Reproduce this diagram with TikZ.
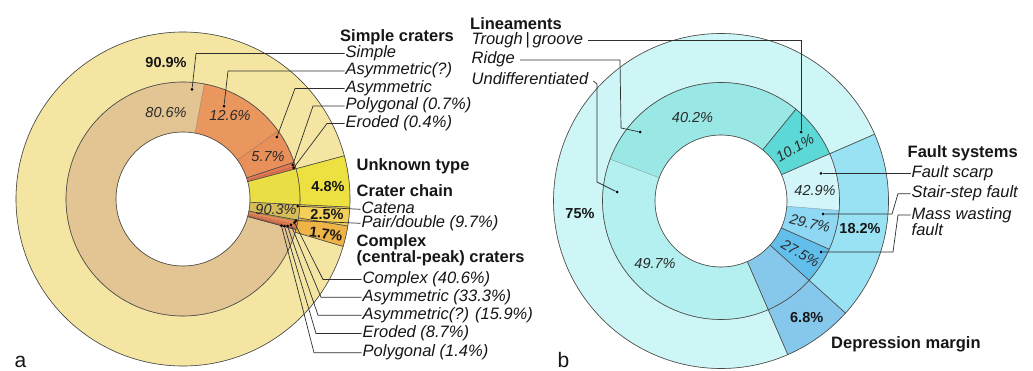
\documentclass[tikz,border=0pt]{standalone}
\usepackage{fontspec}
\setmainfont{Liberation Sans}
\usetikzlibrary{calc}
% left colours
\definecolor{cSimpO}{HTML}{F4E6A2}
\definecolor{cUnk}{HTML}{ECE140}
\definecolor{cChainO}{HTML}{F2D05A}
\definecolor{cCompO}{HTML}{EEB446}
\definecolor{cSimpI}{HTML}{E2C592}
\definecolor{cAsqI}{HTML}{E9975F}
\definecolor{cAsI}{HTML}{E98F5A}
\definecolor{cPolyI}{HTML}{E57A52}
\definecolor{cEroI}{HTML}{E86E48}
\definecolor{cUnkI}{HTML}{E9DE44}
\definecolor{cCat}{HTML}{D6BD5A}
\definecolor{cPair}{HTML}{C99A40}
\definecolor{cCa}{HTML}{EA8A55}
\definecolor{cCb}{HTML}{E8784A}
\definecolor{cCc}{HTML}{E06640}
\definecolor{cCd}{HTML}{D65A38}
\definecolor{cCe}{HTML}{C84E30}
% right colours
\definecolor{cLinO}{HTML}{CEF6F6}
\definecolor{cFaultO}{HTML}{98E2F4}
\definecolor{cDep}{HTML}{86C8EC}
\definecolor{cUnd}{HTML}{B4F0EF}
\definecolor{cRidge}{HTML}{9AE8E5}
\definecolor{cTrough}{HTML}{5CD8D6}
\definecolor{cScarp}{HTML}{D2F6FA}
\definecolor{cStair}{HTML}{8ED8F4}
\definecolor{cMass}{HTML}{62BFEC}
\definecolor{edgec}{HTML}{4A4A46}
\definecolor{leadc}{HTML}{2E2E2E}
\definecolor{txt}{HTML}{161616}
\definecolor{pctc}{HTML}{2A2A2A}
\newcommand\ringsec[6]{%
  \filldraw[fill=#6, draw=edgec, draw opacity=0.35, line width=0.4pt, shift={(#1)}]
    (#4:#2) arc[start angle=#4, end angle=#5, radius=#2]
    -- (#5:#3) arc[start angle=#5, end angle=#4, radius=#3] -- cycle;}
\tikzset{
  dark/.style={draw=edgec, line width=0.6pt},
  lead/.style={draw=leadc, line width=0.7pt},
  dotm/.style={circle, fill=black, inner sep=0pt, minimum size=3pt},
  lab/.style={font=\fontsize{16.5}{17.5}\selectfont\itshape, text=txt, anchor=west,
              inner sep=1pt, text height=12pt, text depth=4pt},
  head/.style={lab, font=\fontsize{16.5}{17.5}\selectfont\bfseries},
  labr/.style={lab, inner xsep=5pt},
  pct/.style={font=\fontsize{14.5}{15}\selectfont\itshape, text=pctc, inner sep=0pt},
  pctb/.style={font=\fontsize{14.5}{15}\selectfont\bfseries, text=txt, inner sep=0pt},
  panel/.style={font=\fontsize{21}{22}\selectfont, text=txt, anchor=base west, inner sep=0pt}
}
\begin{document}
\begin{tikzpicture}[x=1pt,y=1pt]
\useasboundingbox (0,0) rectangle (1033,370);
\fill[white] (0,0) rectangle (1033,370);
\coordinate (lc) at (183,171);
\coordinate (rc) at (721,169);

% ---------- left chart: outer ring
\ringsec{lc}{117}{167}{15}{343.5}{cSimpO}
\ringsec{lc}{117}{167}{-2.8}{15}{cUnk}
\ringsec{lc}{117}{167}{-9.3}{-2.8}{cChainO}
\ringsec{lc}{117}{167}{-16.5}{-9.3}{cCompO}
% inner ring
\ringsec{lc}{67}{117}{79.5}{344.8}{cSimpI}
\ringsec{lc}{67}{117}{35.5}{79.5}{cAsqI}
\ringsec{lc}{67}{117}{18.3}{35.5}{cAsI}
\ringsec{lc}{67}{117}{16.3}{18.3}{cPolyI}
\ringsec{lc}{67}{117}{15}{16.3}{cEroI}
\ringsec{lc}{67}{117}{-2.8}{15}{cUnkI}
\ringsec{lc}{67}{117}{-10.4}{-2.8}{cCat}
\ringsec{lc}{67}{117}{-11.2}{-10.4}{cPair}
\ringsec{lc}{67}{117}{-12.82}{-11.2}{cCa}
\ringsec{lc}{67}{117}{-14.15}{-12.82}{cCb}
\ringsec{lc}{67}{117}{-14.79}{-14.15}{cCc}
\ringsec{lc}{67}{117}{-15.14}{-14.79}{cCd}
\ringsec{lc}{67}{117}{-15.2}{-15.14}{cCe}
% dark outlines
\draw[dark] (lc) circle[radius=67];
\draw[dark] (lc) circle[radius=117];
\draw[dark] (lc) circle[radius=167];
\draw[dark, shift={(lc)}] (15:67) -- (15:167);
\draw[dark, shift={(lc)}] (-2.8:67) -- (-2.8:167);
\draw[dark, shift={(lc)}] (-9.3:117) -- (-9.3:167);
\draw[dark, shift={(lc)}] (-16.5:117) -- (-16.5:167);
\draw[dark, shift={(lc)}] (-10.4:67) -- (-10.4:117);
\draw[dark, shift={(lc)}] (-15.2:67) -- (-15.2:117);
\draw[dark, shift={(lc)}] (18.3:67) -- (18.3:117);

% ---------- right chart: outer ring
\ringsec{rc}{118.5}{167.5}{23.5}{293.5}{cLinO}
\ringsec{rc}{118.5}{167.5}{-42}{23.5}{cFaultO}
\ringsec{rc}{118.5}{167.5}{-66.5}{-42}{cDep}
% inner ring
\ringsec{rc}{66}{118.5}{159.3}{293.5}{cUnd}
\ringsec{rc}{66}{118.5}{50.8}{159.3}{cRidge}
\ringsec{rc}{66}{118.5}{23.5}{50.8}{cTrough}
\ringsec{rc}{66}{118.5}{-4.6}{23.5}{cScarp}
\ringsec{rc}{66}{118.5}{-24.05}{-4.6}{cStair}
\ringsec{rc}{66}{118.5}{-42}{-24.05}{cMass}
\ringsec{rc}{66}{118.5}{-66.5}{-42}{cDep}
\draw[dark] (rc) circle[radius=66];
\draw[dark] (rc) circle[radius=118.5];
\draw[dark] (rc) circle[radius=167.5];
\draw[dark, shift={(rc)}] (23.5:66) -- (23.5:167.5);
\draw[dark, shift={(rc)}] (-42:66) -- (-42:167.5);
\draw[dark, shift={(rc)}] (-66.5:66) -- (-66.5:167.5);
\draw[dark, shift={(rc)}] (50.8:66) -- (50.8:118.5);
\draw[dark, shift={(rc)}] (-24.05:66) -- (-24.05:118.5);

% ---------- left percentages
\node[pctb] (p909) at (166,307) {90.9\%};
\node[pct]  (p806) at (166,257) {80.6\%};
\node[pct]  (p126) at (230,254) {12.6\%};
\node[pct]  (p57)  at (268,213) {5.7\%};
\node[pctb] (p48)  at (328,183) {4.8\%};
\node[pct]  (p903) at (276,160.5) {90.3\%};
\node[pctb] (p25)  at (327,155) {2.5\%};
\node[pctb, rotate=-8] (p17) at (326,136) {1.7\%};

% ---------- left labels
\node[head] (tSC) at (339,332.5) {Simple craters};
\node[lab] (tS1) at (344.5,316.5) {Simple};
\node[lab] (tS2) at (344.5,299) {Asymmetric(?)};
\node[lab] (tS3) at (344.5,281.5) {Asymmetric};
\node[lab] (tS4) at (344.5,264) {Polygonal (0.7\%)};
\node[lab] (tS5) at (344.5,246.5) {Eroded (0.4\%)};
\node[head] (tUT) at (355.5,203.7) {Unknown type};
\node[head] (tCC) at (355.5,177.3) {Crater chain};
\node[lab] (tCat) at (360.5,160.7) {Catena};
\node[lab] (tPair) at (360.5,146.7) {Pair/double (9.7\%)};
\node[head] (tCX1) at (355.5,128) {Complex};
\node[head] (tCX2) at (355.5,111.7) {(central-peak) craters};
\node[lab] (tC1) at (361.5,90.5) {Complex (40.6\%)};
\node[lab] (tC2) at (361.5,72.8) {Asymmetric (33.3\%)};
\node[lab] (tC3) at (361.5,54.8) {Asymmetric(?) (15.9\%)};
\node[lab] (tC4) at (361.5,36.5) {Eroded (8.7\%)};
\node[lab] (tC5) at (361.5,17.3) {Polygonal (1.4\%)};

% ---------- left dots
\node[dotm] (dS1) at ($(lc)+(85.3:110)$) {};
\node[dotm] (dS2) at ($(lc)+(66.2:101.5)$) {};
\node[dotm] (dS3) at ($(lc)+(33.4:112.5)$) {};
\node[dotm] (dS4) at ($(lc)+(17.3:115)$) {};
\node[dotm] (dS5) at ($(lc)+(15.7:115)$) {};
\node[dotm] (dCat) at ($(lc)+(-3.6:115)$) {};
\node[dotm] (dPair) at ($(lc)+(-10.8:115)$) {};
\node[dotm] (dC1) at ($(lc)+(-12:114)$) {};
\node[dotm] (dC2) at ($(lc)+(-13.5:111)$) {};
\node[dotm] (dC3) at ($(lc)+(-14.5:108)$) {};
\node[dotm] (dC4) at ($(lc)+(-15:105)$) {};
\node[dotm] (dC5) at ($(lc)+(-15.2:102)$) {};

% ---------- left leaders
\draw[lead] (dS1) -- (196,316.5) -- (tS1.west);
\draw[lead] (dS2) -- (228,299) -- (tS2.west);
\draw[lead] (dS3) -- (295,281.5) -- (tS3.west);
\draw[lead] (dS4) -- (313,264) -- (tS4.west);
\draw[lead] (dS5) -- (327,246.5) -- (tS5.west);
\draw[lead] (dCat) -- (tCat.west);
\draw[lead] (dPair) -- (tPair.west);
\draw[lead] (dC1) -- (323,90.5) -- (tC1.west);
\draw[lead] (dC2) -- (321,72.8) -- (tC2.west);
\draw[lead] (dC3) -- (318,54.8) -- (tC3.west);
\draw[lead] (dC4) -- (316,36.5) -- (tC4.west);
\draw[lead] (dC5) -- (314,17.3) -- (tC5.west);

% ---------- right percentages
\node[pct]  (p402) at (692.5,252.7) {40.2\%};
\node[pct, rotate=30] (p101) at (795,222) {10.1\%};
\node[pctb] (p75)  at (580,156) {75\%};
\node[pct]  (p497) at (655,106.7) {49.7\%};
\node[pct]  (p429) at (815,179.2) {42.9\%};
\node[pct, rotate=-14] (p297) at (810,146.7) {29.7\%};
\node[pct, rotate=-30] (p275) at (800.5,116.7) {27.5\%};
\node[pctb] (p182) at (860,141) {18.2\%};
\node[pctb] (p68)  at (806.7,52.5) {6.8\%};

% ---------- right labels
\node[head] (tLin) at (469,344) {Lineaments};
\node[labr] (tTr) at (466.5,329.2) {Trough\,\textup{|}\,groove};
\node[labr] (tRi) at (466.5,310) {Ridge};
\node[labr] (tUn) at (466.5,289) {Undifferentiated};
\node[head] (tFS) at (906.5,216.7) {Fault systems};
\node[lab] (tSc) at (910.5,196.7) {Fault scarp};
\node[lab] (tSt) at (910.5,176.3) {Stair-step fault};
\node[lab] (tMw) at (910.5,155) {Mass wasting};
\node[lab] (tMf) at (910.5,139) {fault};
\node[head] (tDM) at (830,25.8) {Depression margin};

% ---------- right dots
\node[dotm] (dTr) at (801,238) {};
\node[dotm] (dRi) at (640,238) {};
\node[dotm] (dUn) at (617,178) {};
\node[dotm] (dSc) at (821,196.7) {};
\node[dotm] (dSt) at (823,156) {};
\node[dotm] (dMw) at (821,118) {};

% ---------- right leaders
\draw[lead] (tTr.east) -| (dTr);
\draw[lead] (tRi.east) -- (620,310) -- (621,242) -- (dRi);
\draw[lead] (tUn.east) -- (597,286) -- (597,188) -- (dUn);
\draw[lead] (dSc) -- (tSc.west);
\draw[lead] (dSt) -- (892,156) -- (898,176.3) -- (tSt.west);
\draw[lead] (dMw) -- (893,118) -- (898,155) -- (tMw.west);

% ---------- panel letters
\node[panel] (la) at (14.5,2.5) {a};
\node[panel] (lb) at (557.5,2.5) {b};
\end{tikzpicture}
\end{document}
